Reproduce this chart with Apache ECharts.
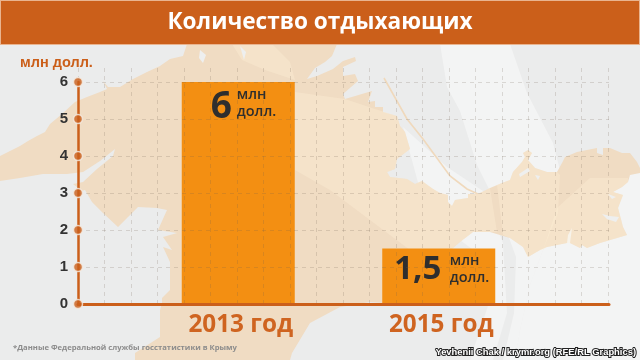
<!DOCTYPE html>
<html>
<head>
<meta charset="utf-8">
<title>Количество отдыхающих</title>
<style>
html,body{margin:0;padding:0;background:#ebecec;}
#chart{width:640px;height:360px;}
</style>
<script src="https://cdn.jsdelivr.net/npm/echarts@6/dist/echarts.min.js"></script>
</head>
<body>
<div id="chart"></div>
<script>
var chartTitle = 'Количество отдыхающих';
var yAxisName = 'млн долл.';
var footNote = '*Данные Федеральной службы госстатистики в Крыму';
var credit = 'Yevhenii Chak / krymr.org (RFE/RL Graphics)';
var categories = ['2013 год', '2015 год'];
var values = [6, 1.5];
var yTicks = [0, 1, 2, 3, 4, 5, 6];

var ORANGE = '#cb5f1a';
var GRID_LINE = 'rgba(110,95,80,0.2)';
var SEA_LIGHT = 'rgba(255,255,255,0.42)';
var LAND_LIGHT = 'rgba(255,240,215,0.35)';

// background map of Crimea, traced by hand (decoration only)
var land = [[0,156],[10,151],[20,146],[28,141],[37,136],[45,132],[50,124],[62,114],[75,102],[87,97],[100,92],[107,89],[103,81],[108,87],[120,87],[133,79],[147,72],[160,66],[170,59],[183,56],[187,44],
	[337,44],[332,56],[325,62],[315,68],[307,79],[317,76],[333,69],[343,61],[355,57],[356,61],[343,67],[343,76],[355,74],[358,81],[343,94],[345,99],[372,91],[368,102],[375,101],[375,107],[383,107],[383,112],[397,116],[400,126],[405,132],[410,149],[397,159],[395,169],[387,172],[390,177],[407,179],[415,184],[422,181],[433,189],[440,193],
	[448,195],[448,202],[452,206],[455,200],[468,198],[468,194],[478,194],[490,188],[502,183],[510,180],[513,172],[522,162],[525,157],[523,153],[528,150],[532,153],[528,160],[535,168],[547,172],[557,172],[562,163],[565,157],[577,152],[597,148],[597,153],[603,155],[603,148],[610,148],[622,153],[630,153],[637,162],[640,168],
	[640,173],[630,175],[628,182],[622,187],[613,192],[623,195],[618,208],[623,227],[627,235],[617,238],[600,243],[587,248],[582,245],[580,248],[570,243],[572,228],[568,235],[567,243],[547,247],[540,250],[528,257],[523,247],[510,238],[490,232],[473,232],[460,242],[445,255],[383,303],[370,302],[340,307],[310,323],[292,353],[290,360],
	[135,360],[135,353],[160,337],[160,310],[162,303],[162,298],[170,290],[170,262],[163,247],[172,250],[163,237],[177,233],[158,230],[167,210],[157,208],[138,207],[128,217],[118,227],[103,213],[92,202],[85,190],[82,191],[73,184],[83,182],[97,169],[113,156],[115,149],[100,161],[83,172],[67,174],[43,174],[20,178],[0,181]];
var spit = [[384,78],[407,119],[423,139],[450,176],[467,189],[478,194]];
var lakes = [[[519,174],[528,168],[530,171],[520,177]],[[535,175],[540,176],[538,180]],[[608,194],[616,197],[612,199]],[[602,214],[610,216],[619,217],[616,222],[607,219]],[[200,50],[206,55],[203,63],[199,58]],[[240,46],[246,52],[244,60]]];
var seaSwooshA = [[440,44],[510,44],[527,93],[553,143],[560,170],[558,213],[543,250],[530,285],[520,330],[515,360],[503,360],[514,313],[516,257],[497,205],[477,165],[460,111],[447,87]];
var seaSwooshB = [[403,127],[447,167],[483,191],[503,243],[507,313],[493,360],[470,360],[490,300],[480,255],[460,240],[430,200],[420,190]];
var seaSwooshC = [[640,170],[590,178],[557,208],[543,250],[530,285],[520,330],[515,360],[640,360]];
var landSwooshA = [[497,185],[502,183],[510,180],[513,172],[522,162],[525,157],[523,153],[528,150],[532,153],[528,160],[535,168],[547,172],[557,172],[560,175],[558,213],[543,250],[540,250],[528,257],[523,247],[510,238],[503,235]];
var landSwooshB = [[295,92],[345,99],[372,108],[397,116],[400,126],[405,132],[410,149],[397,159],[395,169],[387,172],[390,177],[407,179],[415,184],[422,181],[433,189],[440,193],[448,195],[448,202],[452,206],[455,200],[468,198],[468,194],[478,194],[490,188],[497,232],[490,232],[473,232],[460,242],[445,255],[410,250],[330,190],[295,170]];
var landSwooshC = [[628,178],[590,178],[557,208],[543,250],[547,247],[567,243],[570,243],[580,248],[582,245],[587,248],[600,243],[617,238],[627,235],[623,227],[618,208],[623,195],[613,192],[622,187],[628,182]];
var landSwooshTop = [[232,44],[272,44],[290,62],[295,80],[265,70],[242,60]];

function poly(points, fill, z) {
	return { type: 'polygon', z: z, silent: true, shape: { points: points }, style: { fill: fill } };
}

var graphics = [
	poly(seaSwooshA, SEA_LIGHT, -40),
	poly(seaSwooshB, SEA_LIGHT, -40),
	poly(seaSwooshC, SEA_LIGHT, -40),
	poly(land, '#f0dcc3', -30),
	{ type: 'polyline', z: -29, silent: true, shape: { points: spit }, style: { stroke: '#f0d9bc', lineWidth: 1.6, fill: null } },
	poly(landSwooshA, LAND_LIGHT, -20),
	poly(landSwooshB, LAND_LIGHT, -20),
	poly(landSwooshC, LAND_LIGHT, -20),
	poly(landSwooshTop, LAND_LIGHT, -20),
	{ type: 'rect', z: 20, silent: true, shape: { x: 0, y: 0, width: 640, height: 45 }, style: { fill: '#e9b48f' } },
	{ type: 'rect', z: 21, silent: true, shape: { x: 1, y: 1, width: 638, height: 43 }, style: { fill: ORANGE } },
	{ type: 'text', z: 22, silent: true, x: 320, y: 23, style: { text: chartTitle, fill: '#fff', font: 'bold 22.6px "Open Sans"', align: 'center', verticalAlign: 'middle' } },
	{ type: 'text', z: 22, silent: true, x: 20, y: 63, style: { text: yAxisName, fill: ORANGE, font: 'bold 14.5px "Liberation Sans"', verticalAlign: 'middle' } },
	{ type: 'text', z: 22, silent: true, x: 13, y: 348, style: { text: footNote, fill: '#8c8c8c', font: 'bold 7.7px "Open Sans"', verticalAlign: 'middle' } },
	{ type: 'text', z: 22, silent: true, x: 636, y: 352, style: { text: credit, fill: '#fff', stroke: '#222', lineWidth: 2, font: 'bold 9.4px "Liberation Sans"', align: 'right', verticalAlign: 'middle' } }
];
lakes.forEach(function (l) { graphics.push(poly(l, '#eeefef', -15)); });

var labelOffsets = [[-17, 2], [-21, 0]];
var labelSizes = [37, 33];
var unitOffsets = [[-1.5, -1], [11, -1]];

var option = {
	backgroundColor: '#ebecec',
	animation: false,
	graphic: { elements: graphics },
	grid: [
		{ left: 78, width: 530, top: 68, height: 236 },
		{ left: 78, width: 531, top: 82, height: 222 },
		{ left: 138, width: 401, top: 82, height: 222 }
	],
	xAxis: [
		{ gridIndex: 0, type: 'value', min: 0, max: 20, interval: 1, z: 5, axisLine: { show: false }, axisTick: { show: false }, axisLabel: { show: false },
			splitLine: { show: true, lineStyle: { color: GRID_LINE, type: [4, 4], width: 1 } } },
		{ gridIndex: 1, type: 'value', min: 0, max: 1, z: 6, axisLine: { show: true, onZero: false, lineStyle: { color: ORANGE, width: 3 } }, axisTick: { show: false }, axisLabel: { show: false }, splitLine: { show: false } },
		{ gridIndex: 2, type: 'category', data: categories, z: 6, axisLine: { show: false }, axisTick: { show: false },
			axisLabel: { margin: 9, padding: [0, 0, 0, 5], color: '#cf6420', fontFamily: 'Open Sans', fontWeight: 'bold', fontSize: 24.3 } }
	],
	yAxis: [
		{ gridIndex: 0, type: 'value', min: 0, max: 1, show: false },
		{ gridIndex: 1, type: 'value', min: 0, max: 6, interval: 1, z: 6,
			axisLine: { show: true, onZero: false, lineStyle: { color: ORANGE, width: 2.5 } }, axisTick: { show: false },
			axisLabel: { margin: 10, color: '#333', fontFamily: 'Liberation Sans', fontWeight: 'bold', fontSize: 15 },
			splitLine: { show: true, lineStyle: { color: GRID_LINE, type: [4, 4], width: 1 } } },
		{ gridIndex: 2, type: 'value', min: 0, max: 6, show: false }
	],
	series: [
		{
			type: 'bar', xAxisIndex: 2, yAxisIndex: 2, barWidth: 113, z: 3, silent: true,
			itemStyle: { color: '#f38f12' },
			data: values.map(function (v, i) {
				return { value: v, label: { show: true, position: 'insideTop', offset: labelOffsets[i],
					formatter: String(v).replace('.', ','), color: '#2e2e2e', fontFamily: 'Open Sans', fontWeight: 'bold', fontSize: labelSizes[i] } };
			})
		},
		{
			type: 'bar', xAxisIndex: 2, yAxisIndex: 2, barWidth: 113, barGap: '-100%', z: 4, silent: true,
			itemStyle: { color: 'rgba(0,0,0,0)' },
			data: values.map(function (v, i) {
				return { value: v, label: { show: true, position: 'insideTop', offset: unitOffsets[i], align: 'left',
					formatter: 'млн\nдолл.', color: '#2e2e2e', fontFamily: 'Open Sans', fontWeight: 600, fontSize: 14.5, lineHeight: 17 } };
			})
		},
		{
			type: 'scatter', xAxisIndex: 1, yAxisIndex: 1, z: 10, clip: false, silent: true, symbolSize: 9,
			itemStyle: { color: ORANGE, borderColor: '#f4ece4', borderWidth: 1.5 },
			data: yTicks.map(function (t) { return [0, t]; })
		}
	]
};

var myChart = echarts.init(document.getElementById('chart'));
myChart.setOption(option);
</script>
</body>
</html>
